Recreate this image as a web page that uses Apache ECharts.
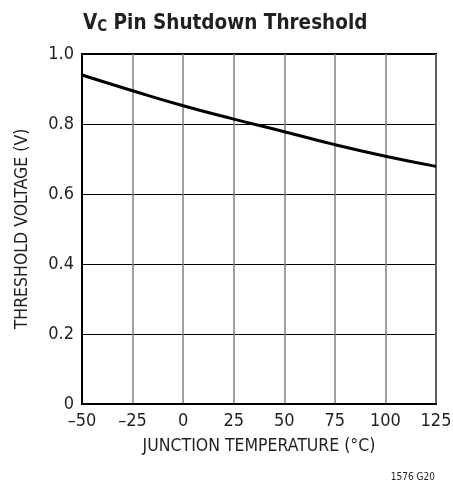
<!DOCTYPE html>
<html><head><meta charset="utf-8">
<script src="https://cdn.jsdelivr.net/npm/echarts@6/dist/echarts.min.js"></script>
<style>html,body{margin:0;padding:0;background:#fff}#c{width:453px;height:489px}</style>
</head><body><div id="c"></div>
<script>
const temps = [-50, -25, 0, 25, 50, 75, 100, 125];
const threshold = [0.94, 0.895, 0.852, 0.814, 0.778, 0.741, 0.708, 0.679];
const FONT = '"Liberation Sans Narrow", "DejaVu Sans Condensed", "Liberation Sans", sans-serif';
const chart = echarts.init(document.getElementById('c'));
chart.setOption({
  backgroundColor: '#fff',
  animation: false,
  title: {
    text: '{v|V}{s|C}{v| Pin Shutdown Threshold}',
    left: 78, top: 7,
    textStyle: {
      rich: {
        v: {fontFamily: FONT, fontWeight: 'bold', fontSize: 20.5, color: '#231f20'},
        s: {fontFamily: FONT, fontWeight: 'bold', fontSize: 15, color: '#231f20', verticalAlign: 'bottom', padding: [8, 0, 0, 0]}
      }
    }
  },
  graphic: [{
    type: 'text', right: 18, top: 472,
    style: {text: '1576 G20', font: '10px ' + FONT, fill: '#231f20'}
  }],
  grid: {left: 82, right: 17, top: 54, bottom: 85, containLabel: false, outerBoundsMode: 'none',
    show: true, borderColor: '#000', borderWidth: 2, backgroundColor: 'transparent'},
  xAxis: {
    type: 'value', min: -50, max: 125, interval: 25,
    name: 'JUNCTION TEMPERATURE (°C)', nameLocation: 'middle', nameGap: 33,
    nameTextStyle: {fontFamily: FONT, fontSize: 17.5, color: '#231f20'},
    axisLine: {show: true, onZero: false, lineStyle: {color: '#000', width: 2}},
    axisTick: {show: false},
    axisLabel: {fontFamily: FONT, fontSize: 18, color: '#231f20', margin: 8,
      formatter: v => String(v).replace('-', '\u2013')},
    splitLine: {show: true, lineStyle: {color: '#808080', width: 1.5}}
  },
  yAxis: {
    type: 'value', min: 0, max: 1, interval: 0.2,
    name: 'THRESHOLD VOLTAGE (V)', nameLocation: 'middle', nameGap: 51, nameRotate: 90,
    nameTextStyle: {fontFamily: FONT, fontSize: 17.5, color: '#231f20'},
    axisLine: {show: true, onZero: false, lineStyle: {color: '#000', width: 2}},
    axisTick: {show: false},
    axisLabel: {fontFamily: FONT, fontSize: 18, color: '#231f20', margin: 8,
      formatter: v => v === 0 ? '0' : v.toFixed(1)},
    splitLine: {show: true, lineStyle: {color: '#000', width: 1}}
  },
  series: [{
    type: 'line', data: temps.map((t, i) => [t, threshold[i]]),
    smooth: true, showSymbol: false,
    lineStyle: {color: '#000', width: 3}
  }]
});
</script></body></html>
